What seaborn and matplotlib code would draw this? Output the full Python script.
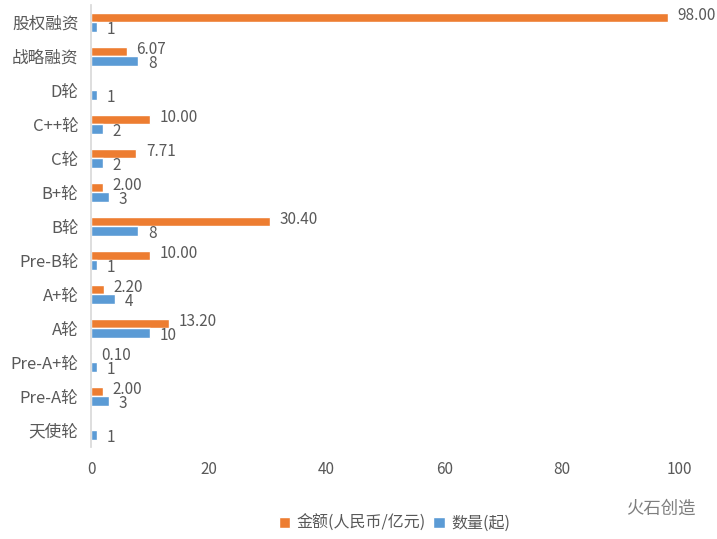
import numpy as np
import pandas as pd
import matplotlib
matplotlib.use("Agg")
import matplotlib.pyplot as plt
import seaborn as sns

# categories from top to bottom
rounds = ["股权融资", "战略融资", "D轮", "C++轮", "C轮", "B+轮", "B轮",
          "Pre-B轮", "A+轮", "A轮", "Pre-A+轮", "Pre-A轮", "天使轮"]
amount = [98.00, 6.07, np.nan, 10.00, 7.71, 2.00, 30.40,
          10.00, 2.20, 13.20, 0.10, 2.00, np.nan]
count = [1, 8, 1, 2, 2, 3, 8, 1, 4, 10, 1, 3, 1]
series = ["金额(人民币/亿元)", "数量(起)"]

df = pd.DataFrame({
    "round": rounds * 2,
    "value": amount + count,
    "series": [series[0]] * len(rounds) + [series[1]] * len(rounds),
})

sns.set_theme(style="white")
plt.rcParams["font.family"] = ["Noto Sans CJK SC", "DejaVu Sans"]
grey = "#595959"

fig, ax = plt.subplots(figsize=(7.17, 5.39), dpi=100)
fig.subplots_adjust(left=0.127, right=0.948, top=0.990, bottom=0.170)

sns.barplot(data=df, y="round", x="value", hue="series", order=rounds,
            hue_order=series, palette=["#ED7D31", "#5B9BD5"],
            orient="h", width=0.54, saturation=1, ax=ax, legend=True)

# data labels (nan bars are skipped by seaborn, so map bars back by position)
for cont, vals, fmt, dy in zip(ax.containers, [amount, count], ["{:.2f}", "{:.0f}"], [1.5, -1.5]):
    for bar in cont:
        yc = bar.get_y() + bar.get_height() / 2
        v = vals[int(round(yc))]
        if np.isnan(v):
            continue
        ax.annotate(fmt.format(v), (bar.get_width(), yc),
                    xytext=(7, dy), textcoords="offset points", ha="left", va="center",
                    fontsize=11, color=grey)

ax.set_xlim(0, 100)
ax.set_xticks(np.arange(0, 101, 20))
ax.set_ylim(len(rounds) - 0.5, -0.5)
ax.set_xlabel("")
ax.set_ylabel("")
ax.tick_params(axis="both", length=0, labelcolor=grey)
ax.tick_params(axis="y", labelsize=12, pad=9)
ax.tick_params(axis="x", labelsize=11, pad=10)
for s in ["top", "right", "bottom"]:
    ax.spines[s].set_visible(False)
ax.spines["left"].set_color("#d9d9d9")

ax.legend(loc="center", bbox_to_anchor=(0.515, -0.172), ncol=2, frameon=False,
          fontsize=11.5, handlelength=0.7, handleheight=0.7, handletextpad=0.4,
          columnspacing=0.5, labelcolor=grey)

fig.text(0.97, 0.057, "火石创造", ha="right", va="center", fontsize=12.5, color="#7f7f7f")

plt.savefig("out.png", dpi=100)
